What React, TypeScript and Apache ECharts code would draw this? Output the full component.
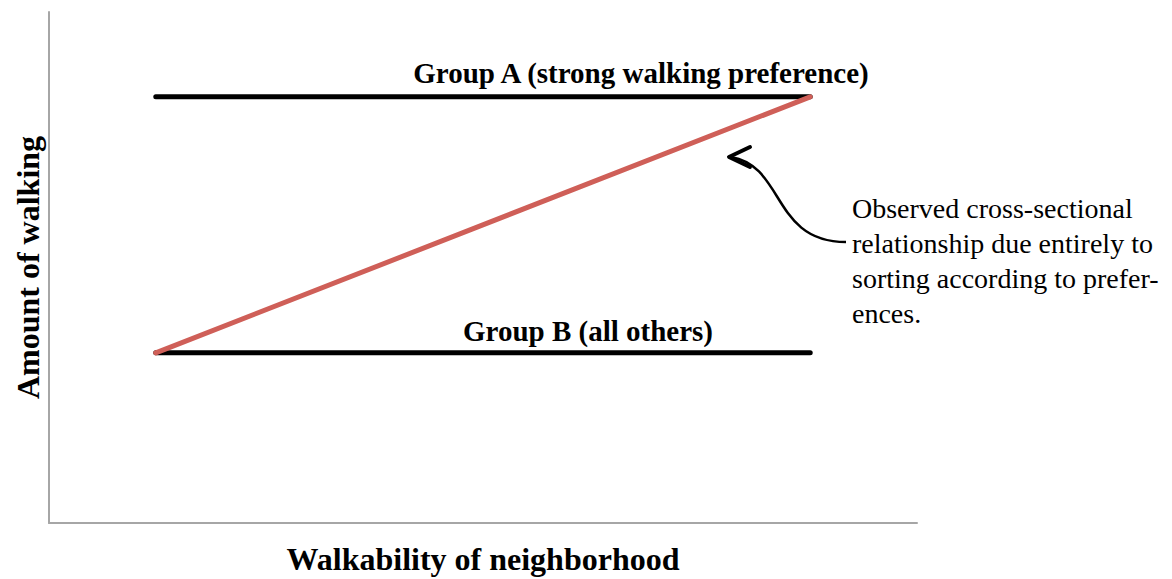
import React, { useEffect, useRef } from "react";
import * as echarts from "echarts";

const xRange = [12.3, 87.7];
const groupA = [83.4, 83.4];
const groupB = [33.3, 33.3];
const observed = [33.3, 83.4];
const labelA = "Group A (strong walking preference)";
const labelB = "Group B (all others)";
const labelAPos = [68.2, 88.1];
const labelBPos = [62.1, 37.6];
const xTitle = "Walkability of neighborhood";
const yTitle = "Amount of walking";
const noteLines = [
  "Observed cross-sectional",
  "relationship due entirely to",
  "sorting according to prefer-",
  "ences.",
];

const FONT = "'Liberation Serif', 'DejaVu Serif', serif";

export default function App() {
  const ref = useRef<HTMLDivElement>(null);
  useEffect(() => {
    document.body.style.margin = "0";
    const chart = echarts.init(ref.current!, null, { renderer: "svg" });
    chart.setOption({
      animation: false,
      backgroundColor: "#ffffff",
      grid: { left: 49, top: 12, right: 255, bottom: 56, outerBoundsMode: "none", containLabel: false },
      xAxis: {
        type: "value",
        min: 0,
        max: 100,
        name: xTitle,
        nameLocation: "middle",
        nameGap: 20,
        nameTextStyle: { fontFamily: FONT, fontWeight: "bold", fontSize: 32, color: "#000" },
        axisLine: { show: true, lineStyle: { color: "#a6a6a6", width: 2 } },
        axisTick: { show: false },
        axisLabel: { show: false },
        splitLine: { show: false },
      },
      yAxis: {
        type: "value",
        min: 0,
        max: 100,
        name: yTitle,
        nameLocation: "middle",
        nameGap: 5,
        nameTextStyle: { fontFamily: FONT, fontWeight: "bold", fontSize: 32, color: "#000" },
        axisLine: { show: true, lineStyle: { color: "#a6a6a6", width: 2 } },
        axisTick: { show: false },
        axisLabel: { show: false },
        splitLine: { show: false },
      },
      series: [
        {
          type: "line",
          data: [[xRange[0], groupA[0]], [xRange[1], groupA[1]]],
          symbol: "none",
          lineStyle: { color: "#000", width: 5, cap: "round" },
        },
        {
          type: "line",
          data: [[xRange[0], groupB[0]], [xRange[1], groupB[1]]],
          symbol: "none",
          lineStyle: { color: "#000", width: 5, cap: "round" },
        },
        {
          type: "line",
          data: [[xRange[0], observed[0]], [xRange[1], observed[1]]],
          symbol: "none",
          lineStyle: { color: "#cf5f58", width: 5, cap: "round" },
        },
        {
          type: "scatter",
          symbolSize: 0,
          itemStyle: { opacity: 1 },
          data: [
            { value: labelAPos, name: labelA },
            { value: labelBPos, name: labelB },
          ],
          label: {
            show: true,
            position: "inside",
            formatter: (p: any) => p.name,
            fontFamily: FONT,
            fontWeight: "bold",
            fontSize: 29,
            color: "#000",
            opacity: 1,
          },
        },
      ],
      graphic: [
        {
          type: "text",
          left: 852,
          top: 191,
          style: {
            text: noteLines.join("\n"),
            fontFamily: FONT,
            fontSize: 28,
            lineHeight: 35,
            fill: "#000",
          },
        },
        {
          type: "bezierCurve",
          shape: { x1: 731, y1: 157, cpx1: 785, cpy1: 166, cpx2: 772, cpy2: 242, x2: 846, y2: 242 },
          style: { stroke: "#000", lineWidth: 2.5, fill: null },
        },
        {
          type: "polyline",
          shape: { points: [[750, 147], [729, 157], [750, 167]] },
          style: { stroke: "#000", lineWidth: 4, fill: null, lineJoin: "round", lineCap: "round" },
        },
      ],
    });
    return () => chart.dispose();
  }, []);
  return <div ref={ref} style={{ width: 1172, height: 579 }} />;
}
